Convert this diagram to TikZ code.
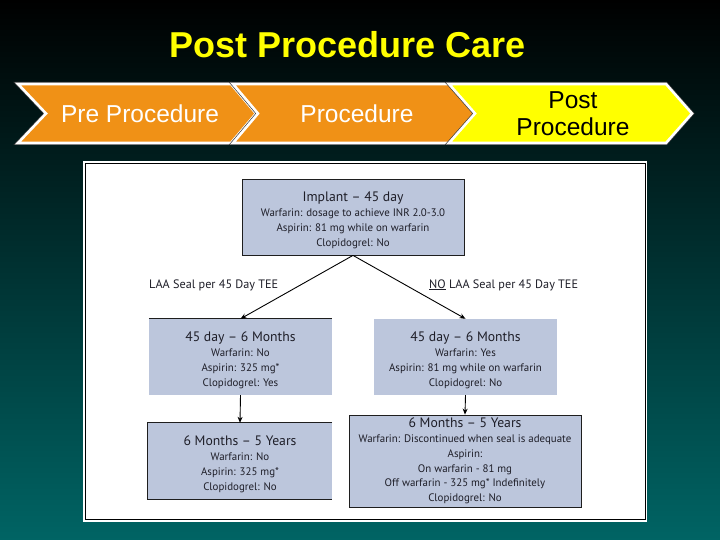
\documentclass[tikz,border=0pt]{standalone}
\usepackage{fontspec}
\usetikzlibrary{arrows.meta}
\newfontfamily\arialf{Liberation Sans}
\newfontfamily\bodyf{PT Sans}
\definecolor{boxblue}{RGB}{188,198,220}
\definecolor{chevorange}{RGB}{240,145,22}
\definecolor{chevyellow}{RGB}{255,255,0}
\definecolor{bgteal}{RGB}{0,100,100}
\definecolor{bgmid}{RGB}{0,68,68}
\definecolor{txtdark}{RGB}{30,30,40}
\definecolor{edgedark}{RGB}{30,30,30}
\tikzset{
  fcbox/.style={fill=boxblue, inner sep=0pt, align=center, text=txtdark,
    font=\bodyf\fontsize{10.9}{14.8}\selectfont},
  chevedge/.style={draw=black!75, line width=4pt, line join=miter},
  chevwhite/.style={draw=white, line width=2.6pt, line join=miter},
  chevtext/.style={font=\arialf\fontsize{24.5}{27}\selectfont, align=center},
  conn/.style={draw=black, line width=0.9pt, -{Stealth[length=6pt,width=5pt]}},
  lbl/.style={anchor=west, inner sep=0pt, text=txtdark, font=\bodyf\fontsize{12.2}{14}\selectfont}
}
\newcommand{\bt}[1]{{\fontsize{13.7}{15}\selectfont #1}}
\newcommand{\bts}[1]{{\fontsize{13.7}{15}\selectfont\rule{0pt}{16pt}#1}}
\begin{document}
\begin{tikzpicture}[x=1pt,y=-1pt]
\useasboundingbox (0,0) rectangle (720,540);
% background
\shade[top color=black, middle color=bgmid, bottom color=bgteal] (0,0) rectangle (720,540);
% title
\node[text=chevyellow, font=\arialf\bfseries\fontsize{36}{40}\selectfont] (title) at (348,45) {Post Procedure Care};
% chevrons
\foreach \xa/\xb/\xc/\xn/\col in {18/231/256/46/chevorange, 233/450/475/258/chevorange, 449/666/692/475/chevyellow}{
  \path[chevedge] (\xa,84) -- (\xb,84) -- (\xc,113.5) -- (\xb,143) -- (\xa,143) -- (\xn,113.5) -- cycle;
  \path[chevwhite, fill=\col] (\xa,84) -- (\xb,84) -- (\xc,113.5) -- (\xb,143) -- (\xa,143) -- (\xn,113.5) -- cycle;
}
\node[chevtext, text=white] (pre) at (140,114) {Pre Procedure};
\node[chevtext, text=white] (proc) at (357,114) {Procedure};
\node[chevtext, text=black] (post) at (573,114) {Post\\Procedure};
% white panel
\fill[white] (83,161) rectangle (647,522);
\draw[black, line width=0.8pt] (85,163) rectangle (645,519);
% boxes
\node[fcbox, draw=edgedark, line width=0.8pt, minimum width=222pt, minimum height=76pt] (top) at (353,217)
  {\bts{Implant – 45 day}\\Warfarin: dosage to achieve INR 2.0-3.0\\Aspirin: 81 mg while on warfarin\\Clopidogrel: No};
\node[fcbox, minimum width=183pt, minimum height=76pt] (l1) at (240.5,357)
  {\bts{45 day – 6 Months}\\Warfarin: No\\Aspirin: 325 mg*\\Clopidogrel: Yes};
\node[fcbox, minimum width=183pt, minimum height=76pt] (r1) at (465.5,357)
  {\bts{45 day – 6 Months}\\Warfarin: Yes\\Aspirin: 81 mg while on warfarin\\Clopidogrel: No};
\node[fcbox, minimum width=184pt, minimum height=76pt] (l2) at (240,461)
  {\bts{6 Months – 5 Years}\\Warfarin: No\\Aspirin: 325 mg*\\Clopidogrel: No};
\node[fcbox, draw=edgedark, line width=0.8pt, minimum width=232pt, minimum height=92pt] (r2) at (465,461)
  {\bt{6 Months – 5 Years}\\Warfarin: Discontinued when seal is adequate\\Aspirin:\\On warfarin - 81 mg\\Off warfarin - 325 mg* Indefinitely\\Clopidogrel: No};
% partial borders
\draw[edgedark, line width=0.8pt] (l1.north west) -- (l1.north east);
\draw[edgedark, line width=0.8pt] (l2.north east) -- (l2.north west) -- (l2.south west) -- (l2.south east);
% labels
\node[lbl] (lblL) at (149,285) {LAA Seal per 45 Day TEE};
\node[lbl] (lblR) at (429,285) {\underline{NO} LAA Seal per 45 Day TEE};
% connectors
\draw[conn] (top.south) -- (l1.north);
\draw[conn] (top.south) -- (r1.north);
\draw[conn] (l1.south) -- (l2.north);
\draw[conn] (r1.south) -- (r2.north);
\end{tikzpicture}
\end{document}
